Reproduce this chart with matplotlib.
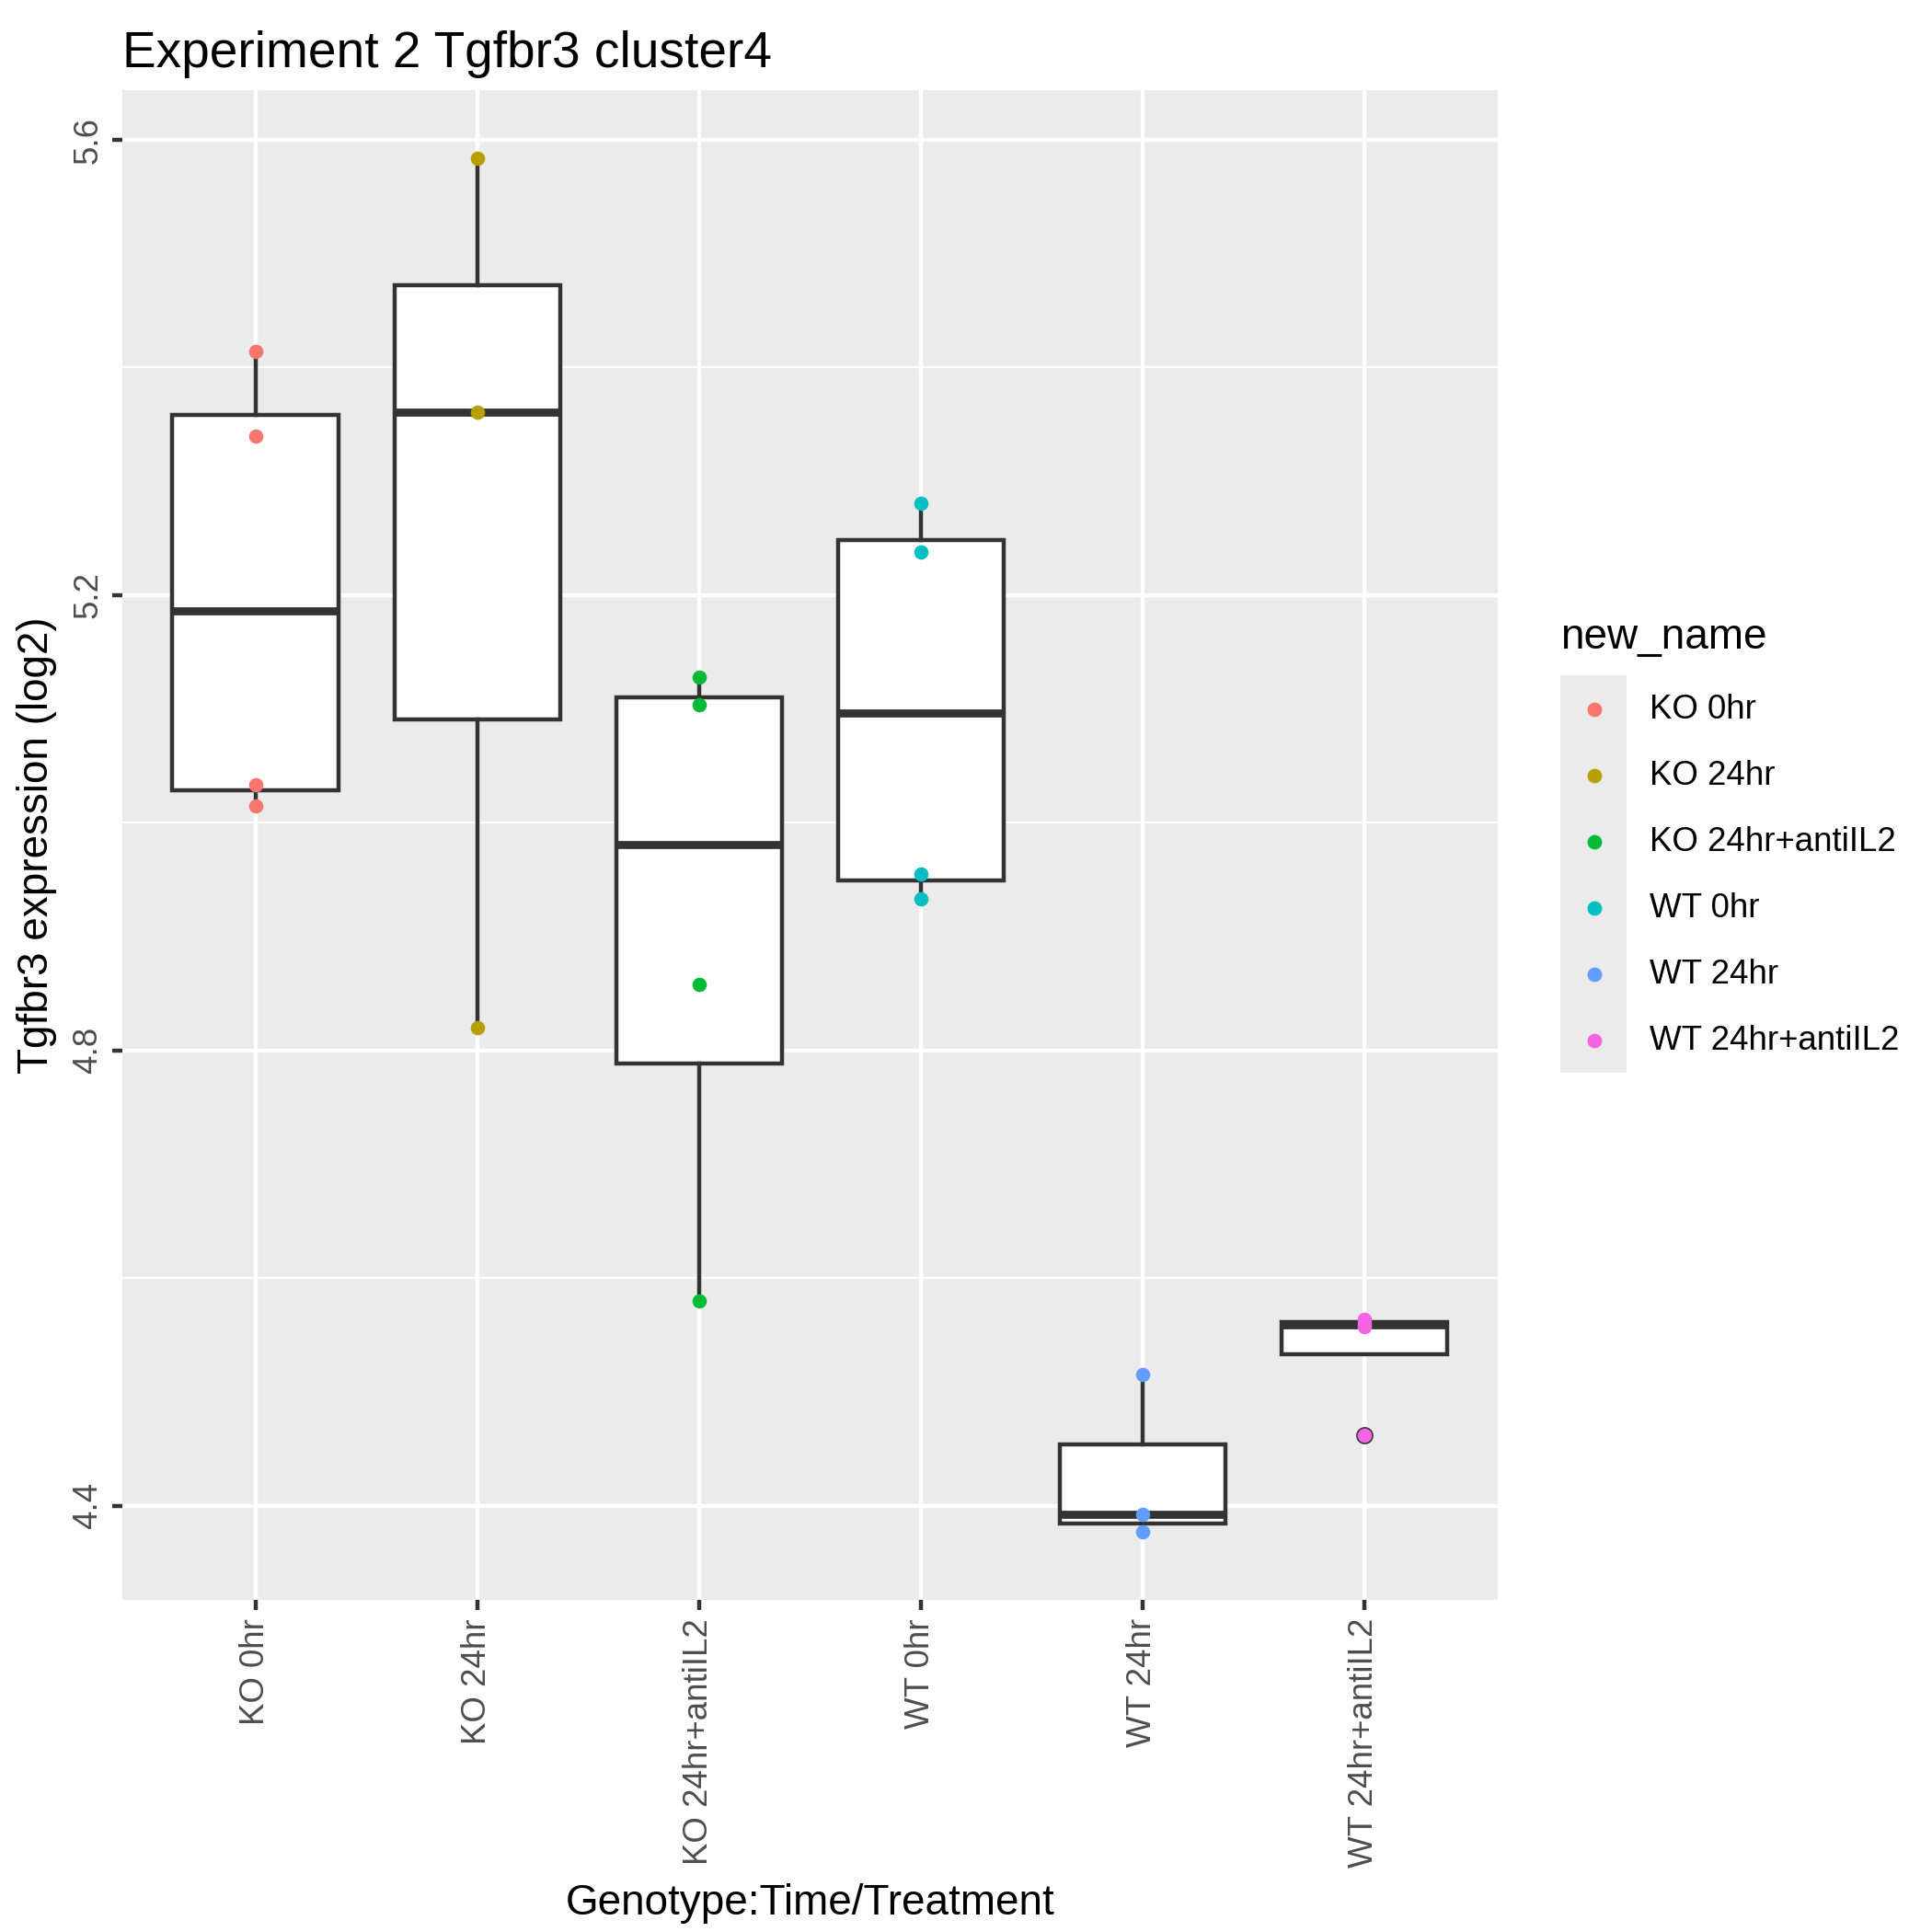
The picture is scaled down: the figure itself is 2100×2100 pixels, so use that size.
import matplotlib
matplotlib.use("Agg")
import matplotlib.pyplot as plt
from matplotlib.patches import Rectangle

categories = ["KO 0hr", "KO 24hr", "KO 24hr+antiIL2", "WT 0hr", "WT 24hr", "WT 24hr+antiIL2"]
values = [
    [5.414, 5.340, 5.033, 5.015],
    [5.584, 5.361, 4.820],
    [5.128, 5.104, 4.858, 4.580],
    [5.281, 5.238, 4.955, 4.933],
    [4.515, 4.392, 4.377],
    [4.462, 4.557, 4.560, 4.564],
]
colors = ["#F8766D", "#B79F00", "#00BA38", "#00BFC4", "#619CFF", "#F564E3"]
yticks = [4.4, 4.8, 5.2, 5.6]

plt.rcParams['font.family'] = ['Liberation Sans', 'DejaVu Sans']
fig = plt.figure(figsize=(7, 7), dpi=300)
W = 1560
ax = fig.add_axes([99/W, 1-1292/W, (1209-99)/W, (1292-73)/W])
ax.set_facecolor("#EBEBEB")
for s in ax.spines.values():
    s.set_visible(False)
ax.set_xlim(0.4, 6.6)
ax.set_ylim(4.317, 5.6435)
for y in [4.6, 5.0, 5.4]:
    ax.axhline(y, color="white", lw=0.53, zorder=0)
for y in yticks:
    ax.axhline(y, color="white", lw=1.07, zorder=0)
pos = list(range(1, len(categories)+1))
for x in pos:
    ax.axvline(x, color="white", lw=1.07, zorder=0)
ax.boxplot(values, positions=pos, widths=0.75, patch_artist=True, whis=1.5,
           boxprops=dict(facecolor="white", edgecolor="#333333", lw=1.07),
           medianprops=dict(color="#333333", lw=2.1),
           whiskerprops=dict(color="#333333", lw=1.07),
           capprops=dict(lw=0),
           flierprops=dict(marker="o", markerfacecolor="#333333", markeredgecolor="#333333", markersize=3.5),
           zorder=2)
for x, v, c in zip(pos, values, colors):
    ax.scatter([x]*len(v), v, s=14, color=c, zorder=3, linewidths=0)
ax.set_xticks(pos)
ax.set_xticklabels(categories, rotation=90, fontsize=8.8, color="#4D4D4D")
ax.set_yticks(yticks)
ax.set_yticklabels([f"{t:.1f}" for t in yticks], rotation=90, va="center", fontsize=8.8, color="#4D4D4D")
ax.tick_params(length=2.75, width=1.07, color="#333333", pad=2)
ax.set_xlabel("Genotype:Time/Treatment", fontsize=11)
ax.set_ylabel("Tgfbr3 expression (log2)", fontsize=11)
ax.set_title("Experiment 2 Tgfbr3 cluster4", fontsize=13.2, loc="left", pad=6)

# legend
fig.text(1260/W, 1-515/W, "new_name", fontsize=11, va="center")
fig.patches.append(Rectangle((1260/W, 1-866/W), 53/W, (866-545)/W, transform=fig.transFigure,
                             facecolor="#EBEBEB", edgecolor="none"))
for i, (cat, c) in enumerate(zip(categories, colors)):
    yy = 1-(573+i*53.5)/W
    fig.lines.append(plt.Line2D([1287/W], [yy], marker="o", color=c, markersize=3.8,
                                markeredgewidth=0, transform=fig.transFigure))
    fig.text(1332/W, yy, cat, fontsize=8.8, va="center")
fig.savefig("out.png", dpi=300)
